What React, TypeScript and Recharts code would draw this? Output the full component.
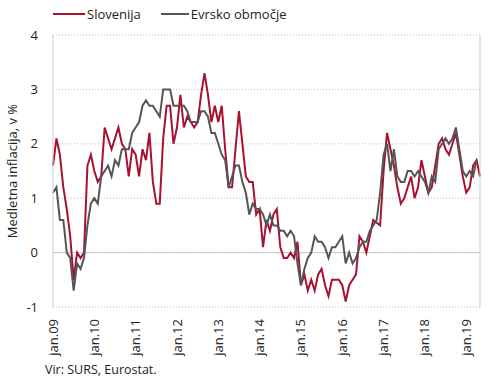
import { CartesianGrid, Line, LineChart, ReferenceLine, XAxis, YAxis } from 'recharts'

const MONTHS = ['jan', 'feb', 'mar', 'apr', 'maj', 'jun', 'jul', 'avg', 'sep', 'okt', 'nov', 'dec']
const YEARS = ['09', '10', '11', '12', '13', '14', '15', '16', '17', '18', '19']

// Slovenija, medletna inflacija (%), jan.09 - maj.19
const slovenija = [
    1.6, 2.1, 1.8, 1.2, 0.8, 0.3, -0.5, 0.0, -0.1, 0.0, 1.6, 1.8,
    1.5, 1.3, 1.4, 2.3, 2.1, 1.9, 2.1, 2.3, 2.0, 1.9, 1.4, 1.9,
    1.8, 1.4, 1.9, 1.7, 2.2, 1.3, 0.9, 0.9, 2.1, 2.7, 2.7, 2.0,
    2.3, 2.9, 2.3, 2.5, 2.4, 2.3, 2.4, 2.9, 3.3, 2.9, 2.4, 2.7,
    2.4, 2.7, 1.9, 1.2, 1.2, 1.9, 2.6, 2.0, 1.4, 1.3, 1.3, 0.7,
    0.8, 0.1, 0.6, 0.4, 0.7, 0.8, 0.1, -0.1, -0.1, 0.0, -0.1, 0.2,
    -0.6, -0.4, -0.7, -0.5, -0.7, -0.4, -0.3, -0.6, -0.8, -0.5, -0.5, -0.5,
    -0.6, -0.9, -0.6, -0.5, -0.4, 0.3, 0.2, 0.0, 0.3, 0.6, 0.55, 0.5,
    1.5, 2.2, 1.9, 1.6, 1.2, 0.9, 1.0, 1.2, 1.4, 1.0, 1.2, 1.7,
    1.4, 1.1, 1.2, 1.6, 2.0, 2.1, 1.9, 1.8, 2.0, 2.2, 1.8, 1.4,
    1.1, 1.2, 1.6, 1.7, 1.4,
]

// Evrsko območje, medletna inflacija (%), jan.09 - apr.19
const evro = [
    1.1, 1.2, 0.6, 0.6, 0.0, -0.1, -0.7, -0.2, -0.3, -0.1, 0.5, 0.9,
    1.0, 0.9, 1.4, 1.5, 1.6, 1.4, 1.7, 1.6, 1.9, 1.9, 1.9, 2.2,
    2.3, 2.4, 2.7, 2.8, 2.7, 2.7, 2.6, 2.5, 3.0, 3.0, 3.0, 2.7,
    2.7, 2.7, 2.7, 2.6, 2.4, 2.4, 2.4, 2.6, 2.6, 2.5, 2.2, 2.2,
    2.0, 1.8, 1.7, 1.2, 1.4, 1.6, 1.6, 1.3, 1.1, 0.7, 0.9, 0.8,
    0.8, 0.7, 0.5, 0.7, 0.5, 0.5, 0.4, 0.4, 0.3, 0.4, 0.3, -0.2,
    -0.6, -0.3, -0.1, 0.0, 0.3, 0.2, 0.2, 0.1, -0.1, 0.1, 0.1, 0.2,
    0.3, -0.2, 0.0, -0.2, -0.1, 0.1, 0.2, 0.2, 0.4, 0.5, 0.6, 1.1,
    1.8, 2.0, 1.5, 1.9, 1.4, 1.3, 1.3, 1.5, 1.5, 1.4, 1.5, 1.4,
    1.3, 1.1, 1.4, 1.3, 1.9, 2.0, 2.1, 2.0, 2.1, 2.3, 1.9, 1.5,
    1.4, 1.5, 1.4, 1.7,
]

const yTicks = [-1, 0, 1, 2, 3, 4]

const categories = YEARS.flatMap((y) => MONTHS.map((m) => `${m}.${y}`)).slice(0, slovenija.length)

const data = categories.map((month, i) => ({
    month,
    slo: slovenija[i],
    ea: i < evro.length ? evro[i] : null,
}))

const RED = '#A6122F'
const GRAY = '#555555'
const FONT = '"Open Sans", sans-serif'

const XTick = ({ x, y, payload }: any) => (
    <text
        x={x}
        y={y}
        transform={`rotate(-90, ${x}, ${y})`}
        textAnchor="end"
        dy="0.35em"
        fontSize={13}
        fontFamily={FONT}
        fill="#222"
    >
        {payload.value}
    </text>
)

export default function App() {
    return (
        <div style={{ position: 'absolute', left: 0, top: 0, width: 490, height: 382, background: '#fff', fontFamily: FONT }}>
            <div style={{ position: 'absolute', left: 53, top: 4, display: 'flex', alignItems: 'center', fontSize: 13, color: '#222' }}>
                <svg width={34} height={20}><line x1={0} x2={32} y1={10} y2={10} stroke={RED} strokeWidth={2} /></svg>
                <span style={{ marginRight: 20 }}>Slovenija</span>
                <svg width={30} height={20}><line x1={0} x2={28} y1={10} y2={10} stroke={GRAY} strokeWidth={2} /></svg>
                <span>Evrsko območje</span>
            </div>
            <LineChart width={490} height={382} data={data} margin={{ top: 35, right: 0, bottom: 0, left: 0 }}>
                <CartesianGrid vertical={false} stroke="#bbb" strokeDasharray="1 2" />
                <XAxis
                    dataKey="month"
                    interval={11}
                    height={75}
                    tick={<XTick />}
                    tickLine={false}
                    tickSize={0}
                    tickMargin={12}
                    axisLine={false}
                />
                <YAxis
                    domain={[-1, 4]}
                    ticks={yTicks}
                    width={53}
                    tickLine={false}
                    tickSize={0}
                    tickMargin={15}
                    axisLine={{ stroke: '#ccc' }}
                    tick={{ fontSize: 13, fill: '#222', fontFamily: FONT }}
                    label={{
                        value: 'Medletna inflacija, v %',
                        angle: -90,
                        position: 'insideLeft',
                        offset: 12,
                        style: { textAnchor: 'middle', fontSize: 13, fill: '#222', fontFamily: FONT },
                    }}
                />
                <YAxis yAxisId="right" orientation="right" domain={[-1, 4]} width={10} tick={false} tickLine={false} axisLine={{ stroke: '#ccc' }} />
                <ReferenceLine y={0} stroke="#c8c8c8" />
                <Line type="linear" dataKey="slo" name="Slovenija" stroke={RED} strokeWidth={2} dot={false} isAnimationActive={false} />
                <Line type="linear" dataKey="ea" name="Evrsko območje" stroke={GRAY} strokeWidth={2} dot={false} isAnimationActive={false} />
            </LineChart>
            <div style={{ position: 'absolute', left: 45, top: 361, fontSize: 12.5, color: '#222' }}>Vir: SURS, Eurostat.</div>
        </div>
    )
}
